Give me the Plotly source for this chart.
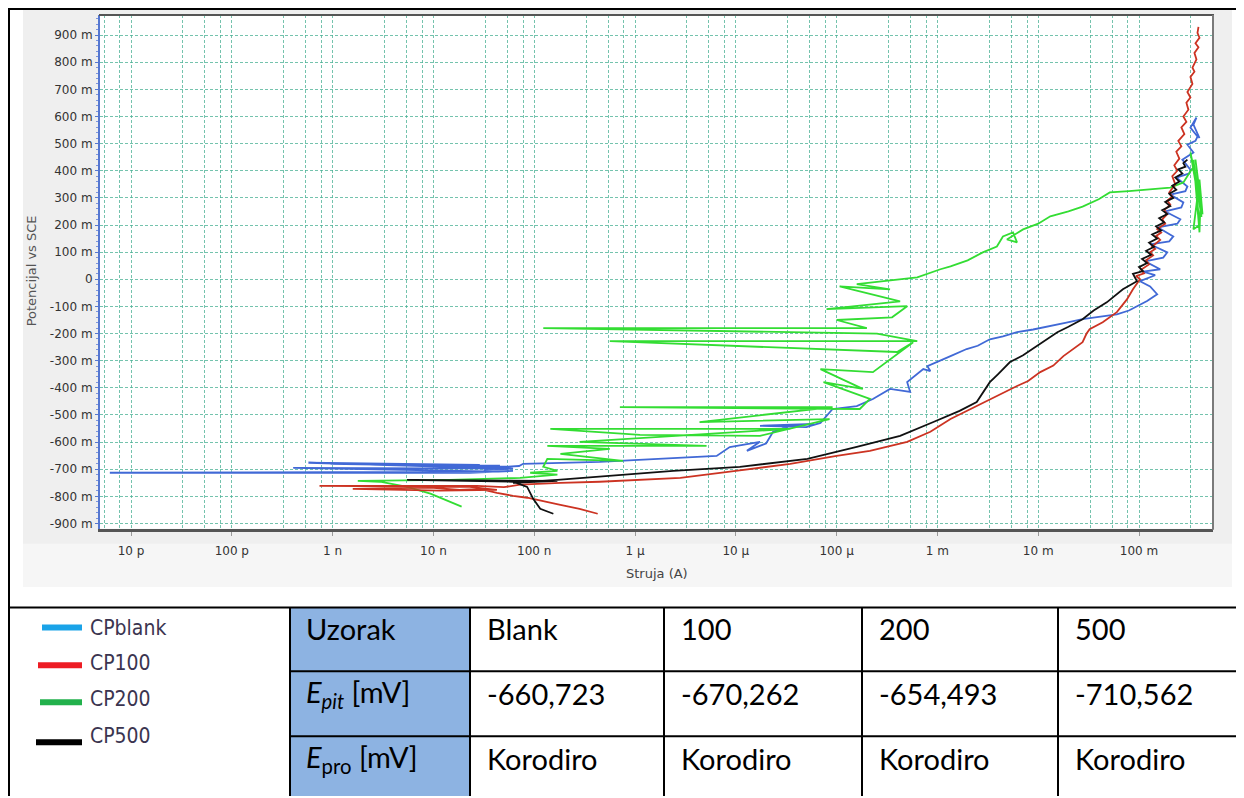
import plotly.graph_objects as go

# ---------------- data (log10 current [A], potential [mV vs SCE]) ----------------
cp_blank = [(-7.21,-706),(-7.64,-713),(-11.21,-713),(-7.34,-709),(-9.39,-695),(-7.24,-698),(-9.24,-676),
            (-7.54,-684),(-7.74,-698),(-7.34,-687),(-9.02,-680),(-7.21,-691),(-7.50,-702),(-7.21,-698),
            (-7.40,-694),(-7.15,-688),(-7.11,-680),(-6.35,-673),(-5.19,-651),(-5.06,-618),(-4.76,-599),
            (-4.89,-632),(-4.70,-605),(-4.63,-562),(-4.46,-540),(-4.23,-533),(-4.76,-540),(-4.30,-545),
            (-4.16,-529),(-4.04,-478),(-3.80,-467),(-3.64,-441),(-3.47,-404),(-3.27,-415),(-3.30,-379),
            (-3.14,-331),(-3.07,-338),(-3.10,-320),(-2.87,-283),(-2.71,-257),(-2.60,-245),(-2.48,-221),
            (-2.35,-210),(-2.21,-195),(-2.05,-185),(-1.88,-173),(-1.72,-160),(-1.56,-147),(-1.40,-138),
            (-1.22,-129),(-1.10,-115),(-1.02,-99),(-0.92,-80),(-0.82,-55),(-0.89,-26),(-0.99,-7),
            (-0.84,15),(-0.96,28),(-0.79,37),(-0.94,66),(-0.76,80),(-0.72,99),(-0.89,129),(-0.70,140),
            (-0.66,158),(-0.81,191),(-0.62,205),(-0.59,221),(-0.74,250),(-0.58,265),(-0.56,283),
            (-0.69,312),(-0.54,325),(-0.52,342),(-0.63,375),(-0.50,390),(-0.49,404),(-0.57,441),
            (-0.46,467),(-0.52,496),(-0.44,510),(-0.42,526),(-0.49,559),(-0.43,596),(-0.46,570),(-0.40,520)]

cp100 = [(-6.37,-864),(-6.55,-846),(-6.74,-831),(-6.94,-816),(-7.07,-805),(-7.21,-798),(-7.37,-787),
         (-7.54,-772),(-7.74,-776),(-8.03,-768),(-8.80,-772),(-7.93,-779),(-7.37,-776),(-7.64,-765),
         (-9.13,-761),(-7.57,-761),(-7.30,-766),(-7.14,-757),(-6.74,-750),(-6.35,-746),(-5.95,-739),
         (-5.55,-732),(-5.00,-706),(-4.46,-680),(-4.00,-651),(-3.67,-632),(-3.30,-599),(-3.07,-562),
         (-2.87,-515),(-2.71,-485),(-2.48,-441),(-2.21,-393),(-2.10,-375),(-1.98,-342),(-1.85,-318),
         (-1.75,-283),(-1.56,-232),(-1.52,-200),(-1.49,-184),(-1.36,-158),(-1.22,-121),(-1.12,-74),
         (-1.06,-37),(-0.99,0),(-1.03,12),(-0.95,22),(-0.98,35),(-0.90,55),(-0.93,70),(-0.86,88),
         (-0.89,100),(-0.84,112),(-0.87,121),(-0.79,145),(-0.83,160),(-0.78,172),(-0.82,185),(-0.74,205),
         (-0.77,221),(-0.72,240),(-0.75,255),(-0.69,275),(-0.72,290),(-0.67,305),(-0.70,320),(-0.64,350),
         (-0.67,380),(-0.62,400),(-0.65,420),(-0.60,445),(-0.63,470),(-0.58,490),(-0.61,510),(-0.55,535),
         (-0.58,560),(-0.53,580),(-0.56,600),(-0.51,625),(-0.53,651),(-0.49,670),(-0.52,690),(-0.47,720),
         (-0.49,746),(-0.45,765),(-0.47,780),(-0.43,810),(-0.45,834),(-0.41,855),(-0.44,870),(-0.40,890),
         (-0.42,908),(-0.41,930)]

cp200 = [(-7.72,-838),(-8.03,-790),(-8.26,-765),(-8.53,-746),(-8.75,-743),(-7.84,-739),(-7.14,-732),
         (-6.77,-720),(-7.04,-713),(-6.77,-706),(-6.91,-691),(-6.87,-662),(-6.12,-669),(-6.74,-643),
         (-6.25,-625),(-6.87,-614),(-5.29,-614),(-6.55,-599),(-4.46,-551),(-6.84,-551),(-5.95,-573),
         (-4.76,-577),(-4.07,-515),(-5.36,-526),(-4.04,-471),(-6.15,-471),(-3.77,-478),(-3.67,-441),
         (-4.13,-379),(-3.74,-404),(-4.16,-331),(-3.64,-342),(-3.24,-232),(-3.40,-268),(-6.25,-228),
         (-3.20,-228),(-3.60,-200),(-6.91,-180),(-3.70,-180),(-4.00,-150),(-3.45,-140),(-3.30,-99),
         (-4.10,-110),(-3.37,-81),(-3.97,-26),(-3.47,-37),(-3.80,-18),(-3.20,7),(-2.97,37),(-2.87,48),
         (-2.70,70),(-2.55,99),(-2.41,121),(-2.35,158),(-2.25,173),(-2.21,136),(-2.31,147),(-2.15,184),
         (-2.00,205),(-1.88,232),(-1.70,250),(-1.56,268),(-1.40,295),(-1.29,320),(-1.10,325),(-0.89,331),
         (-0.69,338),(-0.56,357),(-0.46,415),(-0.49,467),(-0.41,294),(-0.46,440),(-0.40,200),(-0.46,184),
         (-0.40,367),(-0.37,239),(-0.44,441),(-0.39,280),(-0.40,173),(-0.45,400),(-0.38,230),(-0.42,331)]

cp500 = [(-6.81,-864),(-6.94,-846),(-7.01,-809),(-7.07,-765),(-7.21,-746),(-8.26,-739),(-6.77,-743),
         (-7.21,-750),(-6.77,-739),(-6.28,-724),(-5.62,-706),(-4.96,-691),(-4.29,-662),(-3.80,-618),
         (-3.37,-577),(-3.04,-526),(-2.78,-485),(-2.61,-452),(-2.55,-420),(-2.48,-379),(-2.40,-350),
         (-2.28,-305),(-2.15,-280),(-2.01,-246),(-1.81,-195),(-1.70,-175),(-1.56,-147),(-1.45,-115),
         (-1.32,-85),(-1.16,-37),(-1.02,-7),(-1.06,20),(-0.96,30),(-1.00,45),(-0.92,60),(-0.97,75),
         (-0.88,90),(-0.93,105),(-0.85,120),(-0.90,135),(-0.82,150),(-0.87,165),(-0.78,180),(-0.83,195),
         (-0.75,210),(-0.80,225),(-0.72,240),(-0.77,255),(-0.69,270),(-0.74,285),(-0.66,300),(-0.70,315),
         (-0.63,330),(-0.67,345),(-0.60,360),(-0.64,375),(-0.57,390),(-0.61,405),(-0.54,415),(-0.56,428),
         (-0.52,441)]

series_names = ["CPblank", "CP100", "CP200", "CP500"]
x_tick_vals = [1e-11, 1e-10, 1e-9, 1e-8, 1e-7, 1e-6, 1e-5, 1e-4, 1e-3, 1e-2, 1e-1]
x_tick_text = ["10 p", "100 p", "1 n", "10 n", "100 n", "1 µ", "10 µ", "100 µ", "1 m", "10 m", "100 m"]
y_tick_mv = list(range(-900, 1000, 100))
y_tick_text = [("0" if v == 0 else f"{v} m") for v in y_tick_mv]
minor_mult = [3.27, 5.4, 7.76]

table_header = ["Uzorak", "Blank", "100", "200", "500"]
table_epit = ["<i>E</i><sub><i>pit</i></sub> [mV]", "-660,723", "-670,262", "-654,493", "-710,562"]
table_epro = ["<i>E</i><sub>pro</sub> [mV]", "Korodiro", "Korodiro", "Korodiro", "Korodiro"]

# ---------------- figure ----------------
# page body has an 8 px margin, so the figure is offset by 8 px in the window
OFF = 8
W, H = 1244 - OFF, 798 - OFF
def px(x): return (x - OFF) / W
def py(y): return 1 - (y - OFF) / H

trace_colors = {"CPblank": "#4169d6", "CP100": "#cc3322", "CP200": "#33dd33", "CP500": "#111111"}
fig = go.Figure()
for name, data in [("CPblank", cp_blank), ("CP200", cp200), ("CP100", cp100), ("CP500", cp500)]:
    fig.add_trace(go.Scatter(
        x=[10 ** a for a, b in data], y=[b / 1000 for a, b in data],
        mode="lines", name=name, line=dict(color=trace_colors[name], width=1.8),
        showlegend=False))

grid = dict(showgrid=True, gridcolor="rgba(70,175,145,0.75)", gridwidth=1, griddash="3px,2px")
minor_vals = [m * 10 ** d for d in range(-12, 0) for m in minor_mult]
tickfont = dict(family="DejaVu Sans, Verdana, sans-serif", size=12, color="#333")

fig.update_layout(
    width=W, height=H, margin=dict(l=0, r=0, t=0, b=0),
    paper_bgcolor="white", plot_bgcolor="white",
    xaxis=dict(type="log", range=[-11.3075, -0.266], domain=[px(100), px(1213)],
               tickmode="array", tickvals=x_tick_vals, ticktext=x_tick_text,
               ticks="outside", ticklen=4, tickcolor="#999", tickfont=tickfont,
               ticklabelstandoff=5,
               showline=True, linecolor="#555", linewidth=3, zeroline=False,
               minor=dict(tickmode="array", tickvals=minor_vals, showgrid=True,
                          gridcolor="rgba(70,175,145,0.75)", griddash="3px,2px", gridwidth=1),
               **grid),
    yaxis=dict(range=[-0.919, 0.974], domain=[py(530), py(15)],
               tickmode="array", tickvals=[v / 1000 for v in y_tick_mv], ticktext=y_tick_text,
               ticks="outside", ticklen=3, tickcolor="#5577d0", tickfont=tickfont,
               showline=True, linecolor="#5577d0", linewidth=2, zeroline=False,
               minor=dict(dtick=0.02, ticks="outside", ticklen=2, tickcolor="#7d95dd", showgrid=False),
               **grid),
)

shapes = []
# chart panel
shapes.append(dict(type="rect", xref="paper", yref="paper", x0=px(23), x1=px(1232), y0=py(588), y1=py(8),
                   fillcolor="#efefef", line=dict(width=0), layer="below"))
shapes.append(dict(type="rect", xref="paper", yref="paper", x0=px(23), x1=px(1232), y0=py(588), y1=py(545),
                   fillcolor="#f6f6f6", line=dict(width=0), layer="below"))
shapes.append(dict(type="rect", xref="paper", yref="paper", x0=px(100), x1=px(1213), y0=py(530), y1=py(15),
                   fillcolor="white", line=dict(width=0), layer="below"))
shapes.append(dict(type="line", xref="paper", yref="paper", x0=px(99), x1=px(1214), y0=py(15), y1=py(15),
                   line=dict(color="#555", width=2)))
shapes.append(dict(type="line", xref="paper", yref="paper", x0=px(1213), x1=px(1213), y0=py(15), y1=py(531),
                   line=dict(color="#7a7a7a", width=2)))

# table / outer frame
def hline(y, x0, x1, w=2):
    shapes.append(dict(type="line", xref="paper", yref="paper", x0=px(x0), x1=px(x1), y0=py(y), y1=py(y),
                       line=dict(color="black", width=w)))
def vline(x, y0, y1, w=2):
    shapes.append(dict(type="line", xref="paper", yref="paper", x0=px(x), x1=px(x), y0=py(y0), y1=py(y1),
                       line=dict(color="black", width=w)))

shapes.append(dict(type="rect", xref="paper", yref="paper", x0=px(290), x1=px(470), y0=py(798), y1=py(609),
                   fillcolor="#8db3e2", line=dict(width=0)))
hline(9, 8, 1244)
vline(9, 8, 798)
vline(1243, 8, 798)
hline(609, 8, 1244)
hline(673, 290, 1244)
hline(738, 290, 1244)
for cx in [290, 470, 664, 862, 1058]:
    vline(cx, 609, 798)

legend_colors = ["#1aa3e8", "#ed1c24", "#22b14c", "#000000"]
legend_y = [629, 667, 704, 744]
legend_x0 = [42, 38, 40, 36]
for c, yy, x0 in zip(legend_colors, legend_y, legend_x0):
    shapes.append(dict(type="line", xref="paper", yref="paper", x0=px(x0), x1=px(82), y0=py(yy), y1=py(yy),
                       line=dict(color=c, width=6)))
fig.update_layout(shapes=shapes)

ann = []
legend_text_y = [630, 665, 701, 738]
for name, yy in zip(series_names, legend_text_y):
    ann.append(dict(x=px(88), y=py(yy), xref="paper", yref="paper", text=name, showarrow=False,
                    xanchor="left", yanchor="middle",
                    font=dict(family="DejaVu Sans Condensed, DejaVu Sans, sans-serif", size=21, color="#3b3550")))

col_x = [304, 485, 679, 877, 1073]
row_y = [630, 695, 760]
tfont = dict(family="Lato, Carlito, Calibri, sans-serif", size=29, color="black")
for row, yy in zip([table_header, table_epit, table_epro], row_y):
    for txt, xx in zip(row, col_x):
        ann.append(dict(x=px(xx), y=py(yy), xref="paper", yref="paper", text=txt, showarrow=False,
                        xanchor="left", yanchor="middle", font=tfont))

ann.append(dict(x=px(31), y=py(272), xref="paper", yref="paper", text="Potencijal vs SCE", showarrow=False,
                textangle=-90, xanchor="center", yanchor="middle",
                font=dict(family="DejaVu Sans, sans-serif", size=13, color="#555")))
ann.append(dict(x=px(657), y=py(575), xref="paper", yref="paper", text="Struja (A)", showarrow=False,
                xanchor="center", yanchor="middle",
                font=dict(family="DejaVu Sans, sans-serif", size=13, color="#444")))
fig.update_layout(annotations=ann)

fig.write_html("out.html")
